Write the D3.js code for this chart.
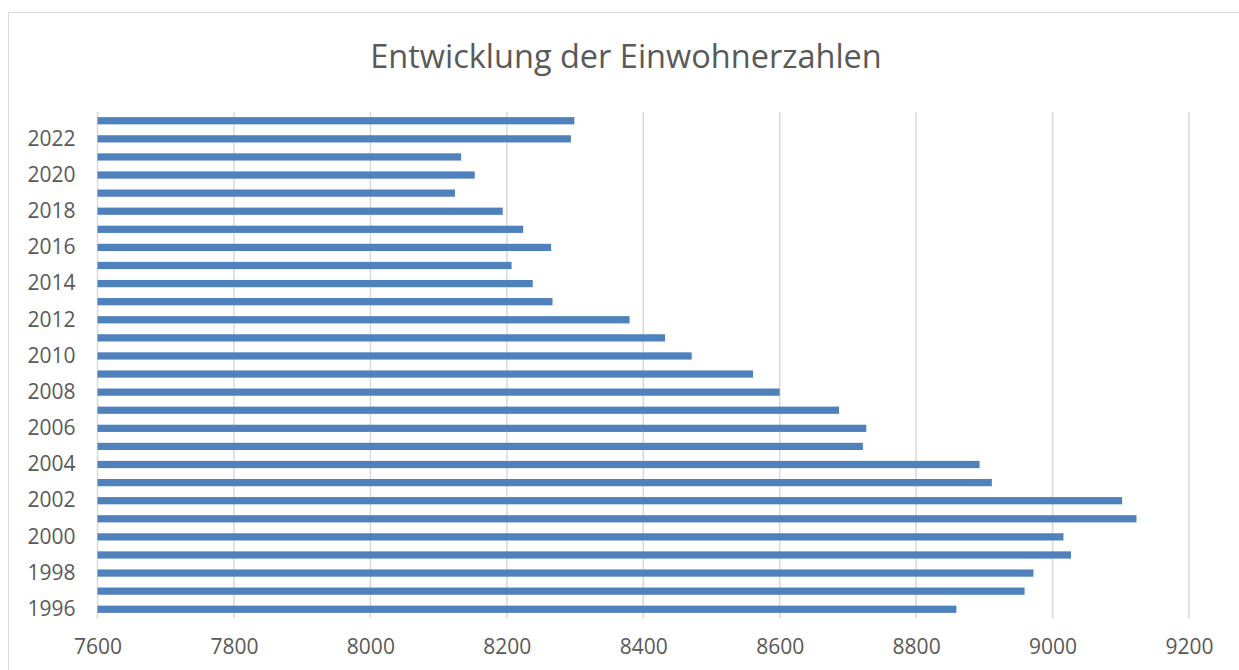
<!DOCTYPE html>
<html>
<head>
<meta charset="utf-8">
<script src="https://cdnjs.cloudflare.com/ajax/libs/d3/7.8.5/d3.min.js"></script>
<style>
  html, body { margin: 0; padding: 0; background: #fff; }
  svg { display: block; }
  text { font-family: "Open Sans", sans-serif; fill: #595959; }
</style>
</head>
<body>
<div id="chart"></div>
<script>
(function() {
  "use strict";

  var years = [1996, 1997, 1998, 1999, 2000, 2001, 2002, 2003, 2004, 2005,
               2006, 2007, 2008, 2009, 2010, 2011, 2012, 2013, 2014, 2015,
               2016, 2017, 2018, 2019, 2020, 2021, 2022, 2023];
  var population = [8859, 8959, 8972, 9027, 9016, 9123, 9102, 8911, 8893, 8722,
                    8727, 8687, 8600, 8561, 8471, 8432, 8380, 8267, 8238, 8207,
                    8265, 8224, 8194, 8124, 8153, 8133, 8294, 8299];
  var xTicks = [7600, 7800, 8000, 8200, 8400, 8600, 8800, 9000, 9200];
  var yLabels = [1996, 1998, 2000, 2002, 2004, 2006, 2008, 2010, 2012, 2014,
                 2016, 2018, 2020, 2022];
  var title = 'Entwicklung der Einwohnerzahlen';

  var WIDTH = 1239, HEIGHT = 670;
  var plot = { left: 97.5, right: 1189, top: 111.7, bottom: 618.3 };

  var svg = d3.select('#chart')
      .append('svg')
      .attr('width', WIDTH)
      .attr('height', HEIGHT);

  // Chart area border (runs past the right and bottom edge)
  svg.append('rect')
      .attr('x', 8.5)
      .attr('y', 12.5)
      .attr('width', WIDTH + 10)
      .attr('height', HEIGHT + 10)
      .attr('fill', '#fff')
      .attr('stroke', '#d9d9d9')
      .attr('stroke-width', 1);

  svg.append('text')
      .attr('x', 626)
      .attr('y', 68)
      .attr('text-anchor', 'middle')
      .style('font-size', '32.5px')
      .text(title);

  var x = d3.scaleLinear()
      .domain([xTicks[0], xTicks[xTicks.length - 1]])
      .range([plot.left, plot.right]);

  // First year at the bottom
  var y = d3.scaleBand()
      .domain(years.slice().reverse())
      .range([plot.top, plot.bottom])
      .paddingInner(0.6)
      .paddingOuter(0.3);

  // Vertical gridlines
  svg.append('g')
    .selectAll('line')
    .data(xTicks)
    .join('line')
      .attr('x1', function(d) { return x(d); })
      .attr('x2', function(d) { return x(d); })
      .attr('y1', plot.top)
      .attr('y2', plot.bottom)
      .attr('stroke', '#d9d9d9')
      .attr('stroke-width', 1.5);

  // Bars
  svg.append('g')
    .selectAll('rect')
    .data(years)
    .join('rect')
      .attr('x', x(xTicks[0]))
      .attr('y', function(d) { return y(d); })
      .attr('height', y.bandwidth())
      .attr('width', function(d, i) { return x(population[i]) - x(xTicks[0]); })
      .attr('fill', '#4f81bd');

  // X axis labels
  var xAxis = svg.append('g')
      .attr('transform', 'translate(0,' + plot.bottom + ')')
      .call(d3.axisBottom(x).tickValues(xTicks).tickSize(0).tickPadding(21)
        .tickFormat(d3.format('d')));
  xAxis.select('.domain').remove();
  xAxis.selectAll('text')
      .style('font-size', '21px')
      .attr('fill', '#595959');

  // Y axis labels (every other year)
  var yAxis = svg.append('g')
      .attr('transform', 'translate(' + plot.left + ',0)')
      .call(d3.axisLeft(y).tickValues(yLabels).tickSize(0).tickPadding(22));
  yAxis.select('.domain').remove();
  yAxis.selectAll('text')
      .style('font-size', '21px')
      .attr('fill', '#595959');
})();
</script>
</body>
</html>
